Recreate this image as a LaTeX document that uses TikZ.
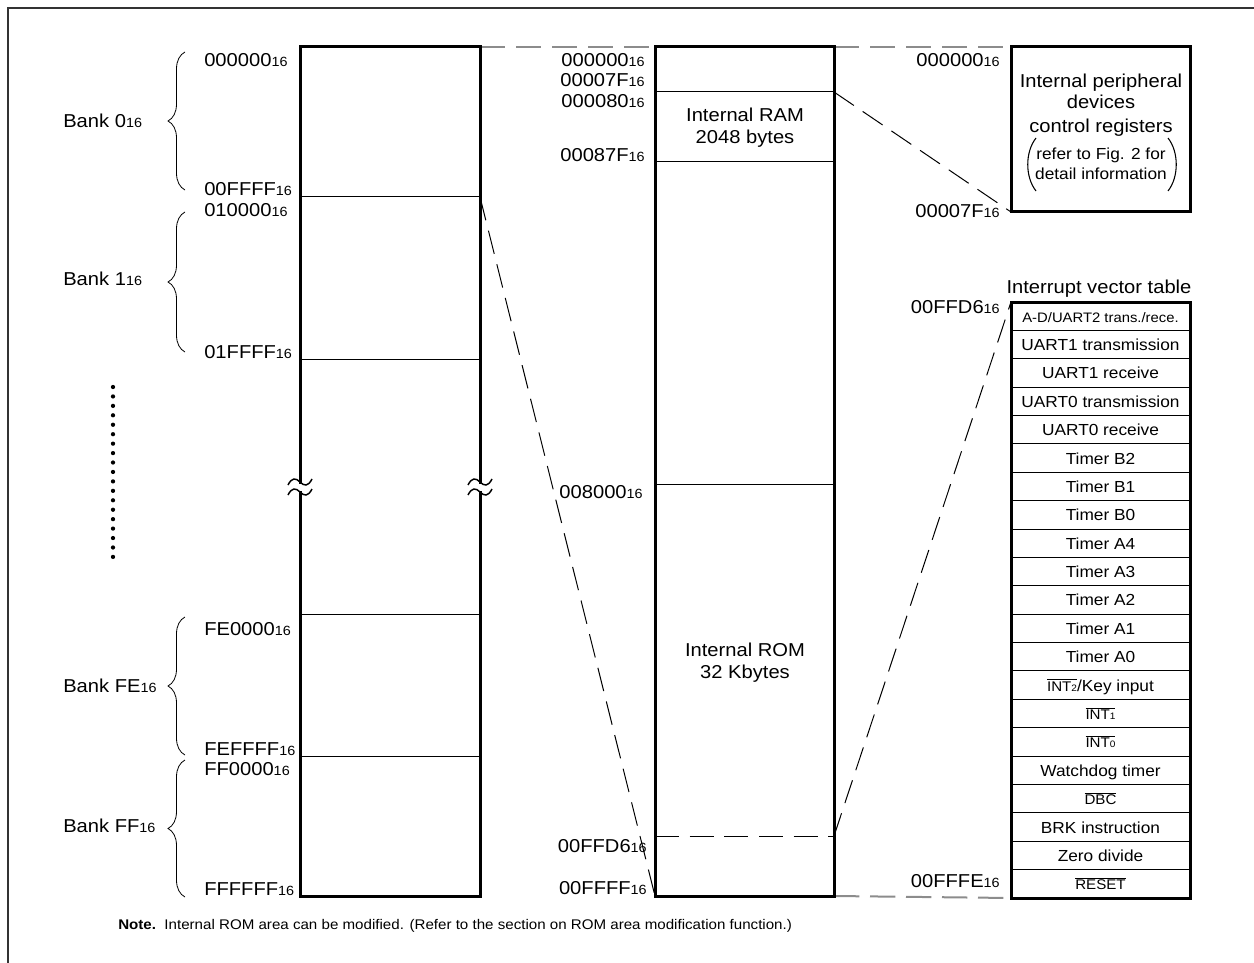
\documentclass[tikz,border=0pt]{standalone}
\usepackage{fontspec}
\setmainfont[FakeStretch=1.08]{Liberation Sans}
\usetikzlibrary{decorations.pathreplacing}
\newcommand{\hx}[1]{#1{\fontsize{10}{10}\selectfont 16}}
\newcommand{\ovl}[1]{$\overline{\hbox{#1}}$}
\newcommand{\sm}[1]{{\fontsize{7}{7}\selectfont #1}}
\begin{document}
\begin{tikzpicture}[x=0.75pt,y=-0.75pt,
  lbl/.style={inner sep=0pt, font=\fontsize{14}{16}\selectfont},
  big/.style={inner sep=0pt, font=\fontsize{14}{17}\selectfont},
  colbox/.style={line width=2.25pt},
  sep/.style={line width=0.75pt},
  gdash/.style={draw=black!45, line width=1.5pt, dash pattern=on 19pt off 8pt},
  kdash/.style={line width=0.75pt, dash pattern=on 18pt off 8pt},
  brc/.style={decorate, decoration={brace, amplitude=12.75pt}, line width=0.6pt},
  wave/.style={line width=1.1pt},
  vt/.style={inner sep=0pt, font=\fontsize{12}{14}\selectfont, anchor=base},
]
\useasboundingbox (0,0) rectangle (1254,963);
% outer frame (partial)
\draw[line width=1.5pt, black!80] (8,963) -- (8,8) -- (1254,8);

% coordinates
\coordinate (Lnw) at (300,47);  \coordinate (Lse) at (480,896);
\coordinate (Lne) at (480,47);  \coordinate (Lb0) at (480,197);
\coordinate (Mnw) at (655,47);  \coordinate (Mse) at (834,896);
\coordinate (Mne) at (834,47);  \coordinate (Msw) at (655,896);
\coordinate (Mr1) at (834,92);  \coordinate (Mr2) at (834,836);
\coordinate (Ml2) at (655,836);
\coordinate (Pnw) at (1011,47); \coordinate (Pse) at (1190,212);
\coordinate (Psw) at (1011,212);
\coordinate (Vnw) at (1011,302); \coordinate (Vse) at (1190,898);
\coordinate (Vsw) at (1011,898);

% gray dashed guide lines
\draw[gdash] (Lne) -- (Mnw);
\draw[gdash] (Mne) -- (Pnw);
\draw[gdash] (Mse) -- (Vsw);
% black dashed connectors
\draw[kdash] (Lb0) -- (Msw);
\draw[kdash] (Mr1) -- (Psw);
\draw[kdash] (Mr2) -- (Vnw);
\draw[kdash] (Ml2) -- (Mr2);

% left column
\draw[sep] (300,197) -- (480,197);
\draw[sep] (300,359) -- (480,359);
\draw[sep] (300,614) -- (480,614);
\draw[sep] (300,756) -- (480,756);
\draw[colbox] (Lnw) rectangle (Lse);
\foreach \bx in {300,480} {
  \fill[white] (\bx-4,484) rectangle (\bx+4,491);
  \draw[wave] (\bx-12,485) .. controls (\bx-8,477) and (\bx-4,478) .. (\bx,482) .. controls (\bx+4,486) and (\bx+8,487) .. (\bx+12,479);
  \draw[wave] (\bx-12,495) .. controls (\bx-8,487) and (\bx-4,488) .. (\bx,492) .. controls (\bx+4,496) and (\bx+8,497) .. (\bx+12,489);
}

% middle column
\draw[sep] (655,92) -- (834,92);
\draw[sep] (655,162) -- (834,162);
\draw[sep] (655,484) -- (834,484);
\draw[colbox] (Mnw) rectangle (Mse);
\node[big, anchor=base] (ram1) at (745,122) {Internal RAM};
\node[big, anchor=base] (ram2) at (745,144) {2048 bytes};
\node[big, anchor=base] (rom1) at (745,656) {Internal ROM};
\node[big, anchor=base] (rom2) at (745,678) {32 Kbytes};

% peripheral box
\draw[colbox] (Pnw) rectangle (Pse);
\node[big, anchor=base] (pt1) at (1101,88) {Internal peripheral};
\node[big, anchor=base] (pt2) at (1101,109) {devices};
\node[big, anchor=base] (pt3) at (1101,133) {control registers};
\node[vt] (pt4) at (1101,160) {refer to Fig. 2 for};
\node[vt] (pt5) at (1101,180) {detail information};
\draw[line width=0.8pt] (1036,138) .. controls (1025,152) and (1025,177) .. (1036,191);
\draw[line width=0.8pt] (1168,138) .. controls (1179,152) and (1179,177) .. (1168,191);

% interrupt vector table
\node[big, anchor=base] (vtt) at (1099,294) {Interrupt vector table};
\foreach \i in {1,...,20}
  \draw[sep] (1011,{302+28.38*\i}) -- (1190,{302+28.38*\i});
\draw[colbox] (Vnw) rectangle (Vse);
\foreach [count=\i] \t in {
  {\fontsize{10.3}{12}\selectfont A-D/UART2 trans./rece.},
  UART1 transmission, UART1 receive, UART0 transmission, UART0 receive,
  Timer B2, Timer B1, Timer B0, Timer A4, Timer A3, Timer A2, Timer A1, Timer A0,
  {{\fontsize{10.5}{12}\selectfont\ovl{INT\sm{2}}}/Key input},
  {\fontsize{10.5}{12}\selectfont\ovl{INT\sm{1}}},
  {\fontsize{10.5}{12}\selectfont\ovl{INT\sm{0}}},
  Watchdog timer,
  {\fontsize{10.5}{12}\selectfont\ovl{DBC}},
  BRK instruction, Zero divide,
  {\fontsize{10.5}{12}\selectfont\ovl{RESET}}}
  \node[vt] (v\i) at (1100.5,{302+28.38*(\i-0.5)+6}) {\t};

% left labels
\node[lbl, anchor=base west] (a1) at (204,67) {\hx{000000}};
\node[lbl, anchor=base west] (a2) at (204,196) {\hx{00FFFF}};
\node[lbl, anchor=base west] (a3) at (204,217) {\hx{010000}};
\node[lbl, anchor=base west] (a4) at (204,358) {\hx{01FFFF}};
\node[lbl, anchor=base west] (a5) at (204,635) {\hx{FE0000}};
\node[lbl, anchor=base west] (a6) at (204,755) {\hx{FEFFFF}};
\node[lbl, anchor=base west] (a7) at (204,775) {\hx{FF0000}};
\node[lbl, anchor=base west] (a8) at (204,895) {\hx{FFFFFF}};

% braces and bank labels
\draw[brc] (185,190) -- (185,52);
\draw[brc] (185,352) -- (185,212);
\draw[brc] (185,755) -- (185,617);
\draw[brc] (185,897) -- (185,760);
\node[lbl, anchor=base west] (b0) at (63,128) {Bank \hx{0}};
\node[lbl, anchor=base west] (b1) at (63,286) {Bank \hx{1}};
\node[lbl, anchor=base west] (b2) at (63,692) {Bank \hx{FE}};
\node[lbl, anchor=base west] (b3) at (63,832) {Bank \hx{FF}};
\foreach \i in {0,...,18}
  \fill (113,{387+9.44*\i}) circle[radius=1.6pt];

% middle labels
\node[lbl, anchor=base east] (m1) at (645,67) {\hx{000000}};
\node[lbl, anchor=base east] (m2) at (645,87) {\hx{00007F}};
\node[lbl, anchor=base east] (m3) at (645,108) {\hx{000080}};
\node[lbl, anchor=base east] (m4) at (645,162) {\hx{00087F}};
\node[lbl, anchor=base east] (m5) at (643,498) {\hx{008000}};
\node[lbl, anchor=base east] (m6) at (647,852) {\hx{00FFD6}};
\node[lbl, anchor=base east] (m7) at (647,894) {\hx{00FFFF}};

% right labels
\node[lbl, anchor=base east] (r1) at (1000,67) {\hx{000000}};
\node[lbl, anchor=base east] (r2) at (1000,218) {\hx{00007F}};
\node[lbl, anchor=base east] (r3) at (1000,313) {\hx{00FFD6}};
\node[lbl, anchor=base east] (r4) at (1000,887) {\hx{00FFFE}};

% note
\node[inner sep=0pt, anchor=base west, font=\fontsize{10.5}{12}\selectfont] (note) at (118,929)
  {\textbf{Note.}\ \ Internal ROM area can be modified. (Refer to the section on ROM area modification function.)};
\end{tikzpicture}
\end{document}
